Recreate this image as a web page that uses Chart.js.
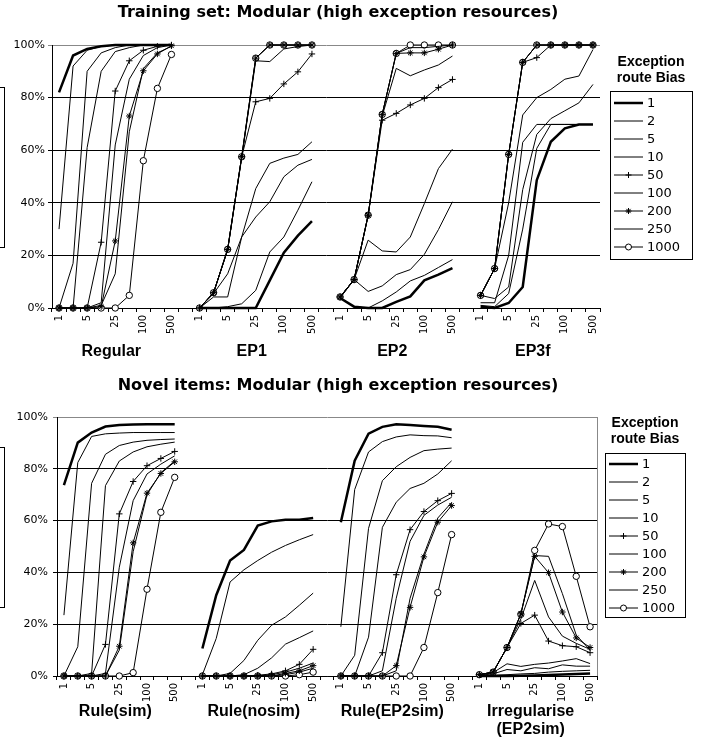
<!DOCTYPE html>
<html><head><meta charset="utf-8">
<script src="https://cdn.jsdelivr.net/npm/chart.js@4.4.1/dist/chart.umd.min.js"></script>
<style>
html,body{margin:0;padding:0;background:#fff;}
body{width:702px;height:738px;position:relative;overflow:hidden;}
.panel{position:absolute;left:0;width:702px;}
canvas{display:block;}
</style></head><body>
<div class="panel" style="top:0;height:370px"><canvas id="trainChart" width="702" height="370"></canvas></div>
<div class="panel" style="top:370px;height:368px"><canvas id="novelChart" width="702" height="368"></canvas></div>
<script>
// ---------- data ----------
const epochLabels = ['1','2','5','10','25','50','100','250','500'];
const biasLabels = ['1','2','5','10','50','100','200','250','1000'];
const trainGroups = [['Regular'],['EP1'],['EP2'],['EP3f']];
const novelGroups = [['Rule(sim)'],['Rule(nosim)'],['Rule(EP2sim)'],['Irregularise','(EP2sim)']];
const trainTitle = 'Training set: Modular (high exception resources)';
const novelTitle = 'Novel items: Modular (high exception resources)';
const legendTitle = ['Exception','route Bias'];
const yTickValues = [0,20,40,60,80,100];

// Training set (% correct), per exception route bias: [Regular, EP1, EP2, EP3f]
const train_1    = [[82,96,98.5,99.5,100,100,100,100,100],[0,0,0,0,0,10.5,21,27.5,33],[3.8,0.5,0,0,2.3,4.4,10.5,12.7,15.2],[0.5,0,1.9,8,48.6,63.2,68.3,69.8,69.8]];
const train_2    = [[30,92,98,99.5,100,100,100,100,100],[0,0,0.5,1.6,6.7,21.3,27,37.2,48],[3.8,0.5,0,2.7,6.1,10.3,12.4,15.4,18.4],[1,0.5,5.5,30,60.7,69.8,69.8,69.8,69.8]];
const train_5    = [[0,17,90,97,99,100,100,100,100],[0,5.5,13,27,34.6,40.4,49.9,54.3,56.5],[3.8,10.8,6.3,8.4,12.7,14.6,20.4,29.8,40.4],[2,2,20,63,69.8,69.8,69.8,69.8,69.8]];
const train_10   = [[0,0,61,90,97.5,99,100,100,100],[0,4.2,4.2,27,45.4,55,57,58.4,63.2],[3.8,10.8,25.8,21.7,21.3,27,39.7,53,60.4],[4.8,3.6,8,45,66,72,75,78,85]];
const train_50   = [[0,0,0,25,82.5,94,98,99.5,100],[0,5.8,22.3,57.5,78.4,79.7,85.2,89.8,96.6],[4.2,10.8,35.3,71.4,74,77.2,79.7,83.8,86.9],[4.8,15,58.4,93.4,95.2,100,100,100,100]];
const train_100  = [[0,0,0,2,62,87,96,99,100],[0,5.8,22,57,94,93.7,98.5,99.4,100],[4.2,10.8,35,73,91.1,88.3,90.5,92.4,95.8],[4.8,15,40,73.4,80,83.1,87,88.2,98.3]];
const train_200  = [[0,0,0,0.5,25.5,73,90.2,96.6,99.7],[0,5.8,22.3,57.5,95,100,100,100,100],[4.2,10.8,35.3,73.6,96.8,97,97,98.4,100],[4.8,15,58.4,93.4,100,100,100,100,100]];
const train_250  = [[0,0,0,1,13,67,91,97,99.5],[0,5.8,22.3,57.5,95,100,100,100,100],[4.2,10.8,35.3,73.6,96.8,99,99,99.5,100],[4.8,15,58.4,93.4,100,100,100,100,100]];
const train_1000 = [[0,0,0,0,0,4.8,56,83.5,96.4],[0,5.8,22.3,57.5,95,100,100,100,100],[4.2,10.8,35.3,73.6,96.8,100,100,100,100],[4.8,15,58.4,93.4,100,100,100,100,100]];

// Novel items (% correct), per exception route bias: [Rule(sim), Rule(nosim), Rule(EP2sim), Irregularise(EP2sim)]
const novel_1    = [[73.7,90.1,94,96.3,96.9,97.1,97.2,97.2,97.2],[10.6,31.2,44.6,48.7,58.1,59.7,60.3,60.3,61],[59.4,83.1,93.6,96.2,97.2,96.9,96.5,96.2,95.1],[0,0,0,0.1,0.2,0.4,0.6,0.8,1]];
const novel_2    = [[23.5,82.4,92.5,93.5,93.8,94,94,94,94],[0.5,14.5,36.3,41,44.6,47.8,50.4,52.6,54.6],[19,72,86.5,90.5,92.3,93.1,92.8,92.7,92],[0,0.3,0.5,0.8,1,1.5,1.8,2,2.2]];
const novel_5    = [[0,11.3,74.4,85.6,89,90.3,91,91.3,91.5],[0,0,1,6,13.8,19.6,22.8,27.3,32],[0,8,57,75.4,80.8,84.4,87,87.6,88],[0.3,0.8,2.5,2,3.2,2.8,4.3,3.8,3.8]];
const novel_10   = [[0,0,1,73.5,83,86.5,88.5,89.5,90.3],[0,0,0,0.5,3,7,12.3,14.8,17.4],[0,0,15,57.4,67.1,72.4,74.4,78,83.1],[0.5,1.3,4.7,3.7,4.5,5,5.8,6.7,4.8]];
const novel_50   = [[0,0,0,12.2,62.6,75.1,81.2,84,86.7],[0,0,0,0,0.3,0.8,2,4.5,10.3],[0,0,0,9,39.1,56.5,63.5,67.7,70.5],[0.5,1.5,11,20.3,23.5,13.5,11.7,11.3,9]];
const novel_100  = [[0,0,0,1,42,67.7,78,81.8,85],[0,0,0,0,0,0.5,1.5,3,5],[0,0,0,2,30,52,62,66,69],[0.5,1.5,11,22,36.9,22.8,15.4,12.6,10.3]];
const novel_200  = [[0,0,0,0,11.5,51.4,70.6,78.2,82.7],[0,0,0,0,0,0,1,2,4],[0,0,0,0,4,26.5,46,59.4,65.8],[0.5,1.5,11,24,46.2,39.9,24.7,14.7,11]];
const novel_250  = [[0,0,0,0,10,48,70,78.5,83],[0,0,0,0,0,0,0.5,1.5,3],[0,0,0,0,2,30,47,61,67],[0.5,1.5,11,24,46.5,46.2,31.8,15.8,10]];
const novel_1000 = [[0,0,0,0,0,1.3,33.5,63.2,76.7],[0,0,0,0,0,0,0,0.5,1.5],[0,0,0,0,0,0,11,32.2,54.6],[0.5,1.5,11,23.8,48.5,58.7,57.7,38.5,19]];

const trainSeries = [train_1,train_2,train_5,train_10,train_50,train_100,train_200,train_250,train_1000];
const novelSeries = [novel_1,novel_2,novel_5,novel_10,novel_50,novel_100,novel_200,novel_250,novel_1000];

// ---------- styles ----------
const lineWidths = [2.5,1,1,1,1,1,1,1,1];
const markers = [false,false,false,false,'cross',false,'star',false,'circle'];

// category labels: 4 groups of 9 with an empty slot between groups
const xLabels = [];
[0,1,2,3].forEach(g => { if (g > 0) xLabels.push(''); epochLabels.forEach(l => xLabels.push(l)); });

function joinGroups(groups) {
  const out = [];
  groups.forEach((g, gi) => { if (gi > 0) out.push(null); g.forEach(v => out.push(v)); });
  return out;
}

function decorPlugin(g) {
  return {
    id: 'decor',
    afterDraw(chart) {
      const ctx = chart.ctx, xs = chart.scales.x, ca = chart.chartArea;
      ctx.save();
      ctx.fillStyle = '#000'; ctx.strokeStyle = '#000';
      ctx.textAlign = 'center'; ctx.textBaseline = 'middle';
      ctx.font = 'bold 16px "DejaVu Sans"';
      ctx.fillText(g.title, g.titleX, g.titleY);
      ctx.font = 'bold 16px "Liberation Sans"';
      g.groups.forEach((lines, gi) => {
        const cx = xs.getPixelForValue(gi * 10 + 4) - 4;
        lines.forEach((t, li) => ctx.fillText(t, cx, g.groupY + li * 17.5));
      });
      if (g.rightBorder) {
        ctx.strokeStyle = '#888'; ctx.lineWidth = 1;
        ctx.beginPath(); ctx.moveTo(Math.round(ca.right) + 0.5, ca.top); ctx.lineTo(Math.round(ca.right) + 0.5, ca.bottom); ctx.stroke();
      }
      ctx.strokeStyle = '#000'; ctx.lineWidth = 1;
      ctx.strokeRect(-2.5, g.sideBox[0] + 0.5, 7, g.sideBox[1]);
      const L = g.legend;
      ctx.font = 'bold 14px "Liberation Sans"';
      legendTitle.forEach((t, i) => ctx.fillText(t, L.x + L.w / 2, L.titleY + i * 16.5));
      ctx.strokeRect(L.x + 0.5, L.y + 0.5, L.w, L.h);
      ctx.textAlign = 'left';
      ctx.font = '13px "DejaVu Sans"';
      chart.data.datasets.forEach((ds, i) => {
        const y = L.itemY + i * L.step;
        ctx.lineWidth = ds.borderWidth; ctx.strokeStyle = '#000';
        ctx.beginPath(); ctx.moveTo(L.x + 4, y); ctx.lineTo(L.x + 33, y); ctx.stroke();
        if (ds.pointStyle) {
          ctx.fillStyle = '#fff'; ctx.lineWidth = 1;
          Chart.helpers.drawPoint(ctx, {pointStyle: ds.pointStyle, radius: 3, borderWidth: 1, rotation: 0}, L.x + 18.5, y);
          ctx.fillStyle = '#000';
        }
        ctx.fillText(ds.label, L.x + 37, y + 1);
      });
      ctx.restore();
    }
  };
}

function makeChart(id, series, g) {
  const datasets = biasLabels.map((b, i) => ({
    label: b,
    data: joinGroups(series[i]),
    borderColor: '#000',
    borderWidth: lineWidths[i],
    pointStyle: markers[i],
    pointRadius: markers[i] ? 3.2 : 0,
    pointBackgroundColor: '#fff',
    pointBorderColor: '#000',
    pointBorderWidth: 1,
    tension: 0,
    spanGaps: false,
    clip: 6
  }));
  return new Chart(document.getElementById(id), {
    type: 'line',
    data: { labels: xLabels, datasets },
    options: {
      responsive: false, animation: false, events: [],
      layout: { padding: { left: 0, right: 702 - g.right, top: g.top, bottom: 0 } },
      plugins: { legend: { display: false }, title: { display: false }, tooltip: { enabled: false } },
      scales: {
        x: {
          offset: true,
          grid: { offset: true, drawOnChartArea: false, drawTicks: true, tickLength: 4, color: '#000' },
          border: { color: '#000', width: 1 },
          ticks: {
            autoSkip: false, maxRotation: 90, minRotation: 90, padding: 3,
            color: '#000', font: { family: 'DejaVu Sans', size: 10 },
            callback: (v, i) => (i % 2 === 0 ? xLabels[i] : '')
          },
          afterFit: s => { s.height = g.xAxisH; }
        },
        y: {
          min: 0, max: 100,
          afterBuildTicks: s => { s.ticks = yTickValues.map(v => ({ value: v })); },
          ticks: { color: '#000', font: { family: 'DejaVu Sans', size: 11 }, padding: g.yPad, callback: v => v + '%' },
          grid: { color: c => (c.tick && c.tick.value === 100 ? '#888' : '#000'), tickLength: 4 },
          border: { color: '#000', width: 1 },
          afterFit: s => { s.width = g.left; }
        }
      }
    },
    plugins: [decorPlugin(g)]
  });
}

makeChart('trainChart', trainSeries, {
  left: 52, right: 600, top: 45, xAxisH: 62, yPad: 3,
  title: trainTitle, titleX: 338, titleY: 13,
  groups: trainGroups, groupY: 352, rightBorder: false,
  sideBox: [87, 160],
  legend: { x: 610, y: 91, w: 82, h: 168, titleY: 62, itemY: 103, step: 18 }
});
makeChart('novelChart', novelSeries, {
  left: 57, right: 597, top: 47, xAxisH: 62, yPad: 5,
  title: novelTitle, titleX: 338, titleY: 16,
  groups: novelGroups, groupY: 342, rightBorder: true,
  sideBox: [77, 160],
  legend: { x: 605, y: 83, w: 80, h: 164, titleY: 53, itemY: 94, step: 18 }
});
</script>
</body></html>
